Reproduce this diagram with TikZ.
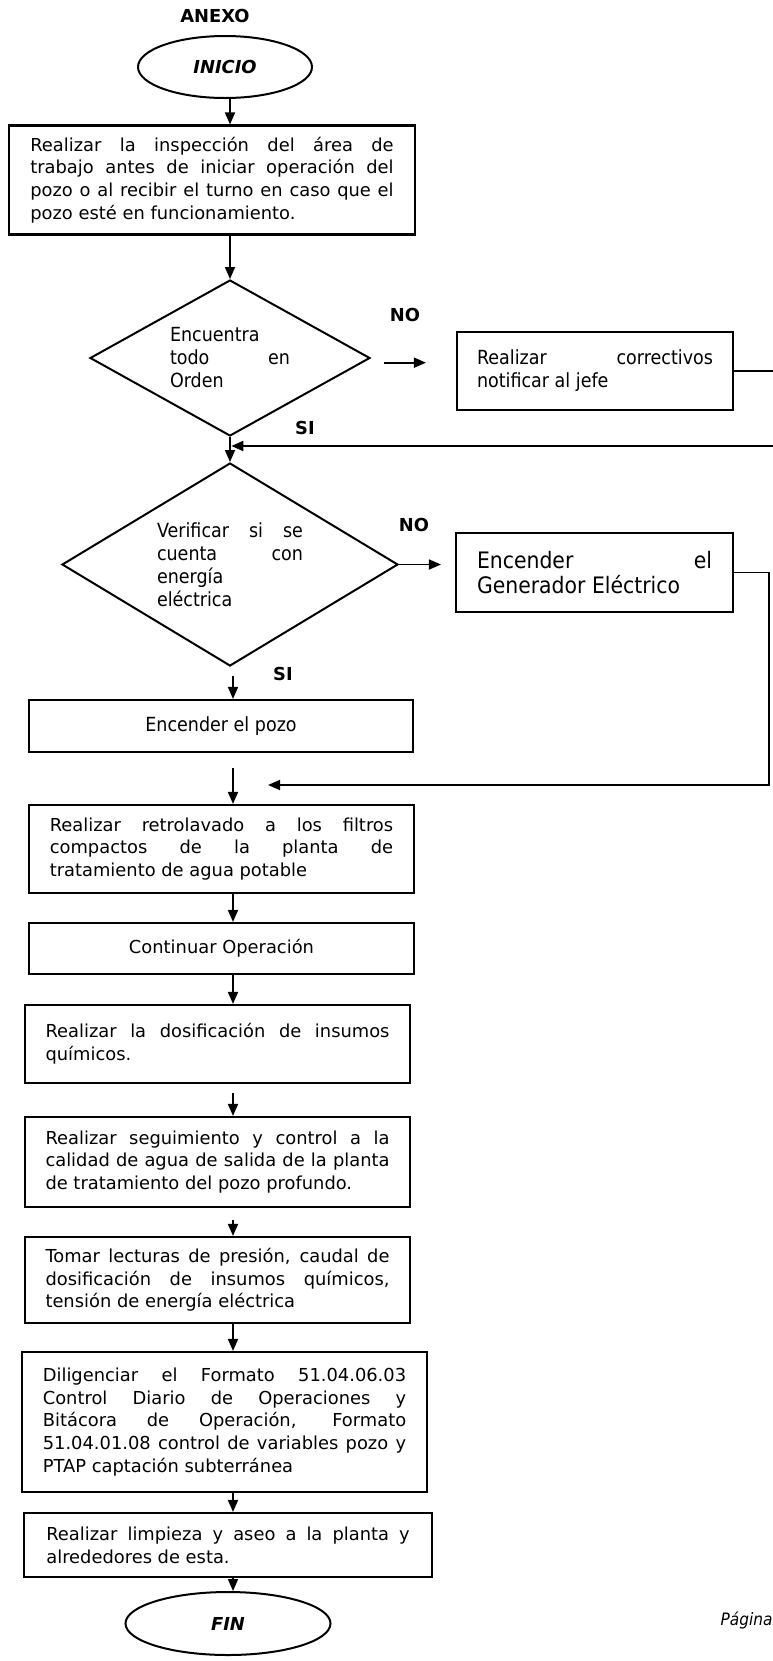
\documentclass[tikz,border=0pt]{standalone}
\usepackage{fontspec}
\setmainfont{DejaVu Sans}
\newfontfamily\tahoma[FakeStretch=0.9]{DejaVu Sans}
\usetikzlibrary{arrows.meta,shapes.geometric}

\begin{document}
\begin{tikzpicture}[x=0.75pt,y=-0.75pt,
	caja/.style={draw,line width=1.6pt,rectangle,inner sep=0pt,align=justify,font=\fontsize{13.4}{17}\selectfont},
	decision/.style={draw,line width=1.5pt,diamond,aspect=1.8,inner sep=0pt,align=justify,font=\tahoma\fontsize{14.6}{17.25}\selectfont},
	terminal/.style={draw,line width=1.5pt,ellipse,inner sep=0pt,font=\bfseries\itshape\fontsize{13.4}{17}\selectfont},
	etiqueta/.style={font=\bfseries\fontsize{13.4}{17}\selectfont},
	flecha/.style={-{Triangle[length=9pt,width=7.5pt]},line width=1.3pt}]
		\useasboundingbox[fill=white] (0,0) rectangle (772,1661);
		\coordinate (eje) at (233,0);
		\node[etiqueta] (anexo) at (215,16) {ANEXO};
		\node[terminal,minimum width=130.5pt,minimum height=46.5pt] (inicio) at (225,67) {INICIO};
		\node[caja,minimum width=304.5pt,minimum height=81.75pt,text width=272.5pt] (inspeccion) at (212,180) {Realizar la inspección del área de\linebreak trabajo antes de iniciar operación del\linebreak pozo o al recibir el turno en caso que el\linebreak pozo esté en funcionamiento.};
		\node[decision,minimum width=210pt,minimum height=117pt,text width=90pt] (d1) at (230,358) {Encuentra\newline todo en\linebreak Orden};
		\node[caja,font=\tahoma\fontsize{14.6}{17.25}\selectfont,minimum width=207pt,minimum height=58.5pt,text width=177pt] (correctivos) at (595,371) {Realizar correctivos\linebreak notificar al jefe};
		\node[etiqueta] (no1) at (405,315) {NO};
		\node[etiqueta] (si1) at (305,428) {SI};
		\node[decision,minimum width=252pt,minimum height=152.25pt,text width=109.5pt] (d2) at (230,564.5) {Verificar si se\linebreak cuenta con\linebreak energía\newline eléctrica};
		\node[caja,font=\tahoma\fontsize{17}{18.75}\selectfont,minimum width=207.75pt,minimum height=59.25pt,text width=176.25pt] (generador) at (594.5,572.5) {Encender el\linebreak Generador Eléctrico};
		\node[etiqueta] (no2) at (414,525) {NO};
		\node[etiqueta] (si2) at (283,674) {SI};
		\node[caja,align=center,font=\tahoma\fontsize{14.6}{17.25}\selectfont,minimum width=288pt,minimum height=39pt] (pozo) at (221,726) {Encender el pozo};
		\node[caja,minimum width=288.75pt,minimum height=66pt,text width=257.5pt] (retro) at (221.5,849) {Realizar retrolavado a los filtros\linebreak compactos de la planta de\linebreak tratamiento de agua potable};
		\node[caja,align=center,minimum width=288.75pt,minimum height=38.25pt] (continuar) at (221.5,948.5) {Continuar Operación};
		\node[caja,minimum width=288.75pt,minimum height=58.5pt,text width=258pt] (dosif) at (217.5,1044) {Realizar la dosificación de insumos\linebreak químicos.};
		\node[caja,minimum width=288.75pt,minimum height=67.5pt,text width=258pt] (seguim) at (217.5,1162) {Realizar seguimiento y control a la\linebreak calidad de agua de salida de la planta\linebreak de tratamiento del pozo profundo.};
		\node[caja,minimum width=288.75pt,minimum height=64.5pt,text width=258pt] (lecturas) at (217.5,1280) {Tomar lecturas de presión, caudal de\linebreak dosificación de insumos químicos,\linebreak tensión de energía eléctrica};
		\node[caja,minimum width=303.75pt,minimum height=105pt,text width=272.5pt] (formato) at (224.5,1422) {Diligenciar el Formato 51.04.06.03\linebreak Control Diario de Operaciones y\linebreak Bitácora de Operación, Formato\linebreak 51.04.01.08 control de variables pozo y\linebreak PTAP captación subterránea};
		\node[caja,minimum width=306pt,minimum height=48pt,text width=272.5pt] (limpieza) at (228,1545) {Realizar limpieza y aseo a la planta y\linebreak alrededores de esta.};
		\node[terminal,minimum width=153.75pt,minimum height=47.25pt] (fin) at (228,1623.5) {FIN};
		\node[anchor=west,font=\tahoma\itshape\fontsize{12.8}{15}\selectfont] (pagina) at (716,1620) {Página};
		% lazos de retorno
		\coordinate (r1) at (777,446);
		\coordinate (r2) at (769,785);
		\coordinate (m2) at (268,785);
		\draw[flecha] (d1.north |- inicio.south) -- (d1.north |- inspeccion.north);
		\draw[flecha] (d1.north |- inspeccion.south) -- (d1.north);
		\draw[flecha] (d1.south) -- (d2.north);
		\draw[flecha,shorten <=9.75pt,shorten >=22.5pt] ([yshift=-3.5pt]d1.east) -- ([yshift=-3.5pt]d1.east -| correctivos.west);
		\draw[flecha,shorten >=1pt] (correctivos.east) -| (r1) -- (r1 -| d1.south);
		\draw[flecha,shorten >=10.5pt] (d2.east) -- (d2.east -| generador.west);
		\draw[flecha] (generador.east) -| (r2) -- (m2);
		\draw[flecha,shorten <=6.75pt] (eje |- d2.south) -- (eje |- pozo.north);
		\draw[flecha,shorten <=11.25pt] (eje |- pozo.south) -- (eje |- retro.north);
		\draw[flecha] (eje |- retro.south) -- (eje |- continuar.north);
		\draw[flecha] (eje |- continuar.south) -- (eje |- dosif.north);
		\draw[flecha,shorten <=6.75pt] (eje |- dosif.south) -- (eje |- seguim.north);
		\draw[flecha,shorten <=9pt] (eje |- seguim.south) -- (eje |- lecturas.north);
		\draw[flecha] (eje |- lecturas.south) -- (eje |- formato.north);
		\draw[flecha] (eje |- formato.south) -- (eje |- limpieza.north);
		\draw[flecha] (eje |- limpieza.south) -- (eje |- fin.north);
\end{tikzpicture}
\end{document}
